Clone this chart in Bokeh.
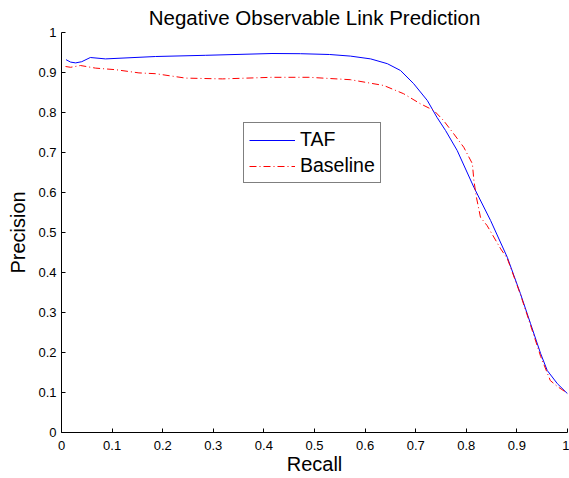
from bokeh.plotting import figure
from bokeh.models import FixedTicker, Legend, LegendItem
from bokeh.embed import file_html
from bokeh.resources import INLINE

title_text = "Negative Observable Link Prediction"
x_label = "Recall"
y_label = "Precision"

ticks = [0, 0.1, 0.2, 0.3, 0.4, 0.5, 0.6, 0.7, 0.8, 0.9, 1]
tick_labels = ["0", "0.1", "0.2", "0.3", "0.4", "0.5", "0.6", "0.7", "0.8", "0.9", "1"]

taf_recall = [0.009, 0.018, 0.028, 0.04, 0.057, 0.087, 0.186, 0.285, 0.416, 0.472,
              0.53, 0.571, 0.611, 0.644, 0.67, 0.696, 0.723, 0.742, 0.759, 0.782,
              0.815, 0.848, 0.881, 0.907, 0.927, 0.947, 0.96, 0.98, 1.0]
taf_precision = [0.932, 0.926, 0.924, 0.927, 0.9375, 0.934, 0.94, 0.943, 0.9475, 0.947,
                 0.945, 0.941, 0.934, 0.922, 0.905, 0.872, 0.83, 0.788, 0.755, 0.705,
                 0.613, 0.53, 0.438, 0.347, 0.272, 0.197, 0.155, 0.122, 0.097]

base_recall = [0.008, 0.018, 0.0375, 0.067, 0.107, 0.153, 0.186, 0.245, 0.318, 0.416,
               0.489, 0.571, 0.637, 0.676, 0.709, 0.736, 0.755, 0.775, 0.795, 0.812,
               0.815, 0.82, 0.828, 0.841, 0.868, 0.881, 0.907, 0.927, 0.947, 0.966,
               0.98, 1.0]
base_precision = [0.915, 0.913, 0.9175, 0.911, 0.907, 0.899, 0.897, 0.886, 0.884, 0.888,
                  0.888, 0.882, 0.8675, 0.847, 0.822, 0.805, 0.78, 0.747, 0.713, 0.672,
                  0.63, 0.588, 0.538, 0.5175, 0.459, 0.435, 0.345, 0.268, 0.19, 0.13,
                  0.115, 0.098]

FONT = "Liberation Sans"

p = figure(width=569, height=478, x_range=(0, 1), y_range=(0, 1),
           output_backend="svg", toolbar_location=None,
           title=title_text, min_border_left=61, min_border_right=2,
           min_border_top=32, min_border_bottom=46)
p.title.align = "center"
p.title.vertical_align = "top"
p.title.text_font = FONT
p.title.text_font_size = "20.5px"
p.title.text_font_style = "normal"
p.title.text_color = "black"
p.title.standoff = 4
p.outline_line_color = None
p.xgrid.visible = False
p.ygrid.visible = False
p.background_fill_color = "white"
p.border_fill_color = "white"

overrides = {t: l for t, l in zip(ticks, tick_labels)}
for ax in (p.xaxis[0], p.yaxis[0]):
    ax.ticker = FixedTicker(ticks=ticks)
    ax.major_label_overrides = overrides
    ax.minor_tick_line_color = None
    ax.major_tick_in = 4
    ax.major_tick_out = 0
    ax.axis_line_color = "black"
    ax.major_tick_line_color = "black"
    ax.major_label_text_font = FONT
    ax.major_label_text_font_size = "13px"
    ax.major_label_text_color = "black"
    ax.axis_label_text_font = FONT
    ax.axis_label_text_font_size = "20px"
    ax.axis_label_text_font_style = "normal"
    ax.axis_label_text_color = "black"
p.xaxis[0].axis_label = x_label
p.yaxis[0].axis_label = y_label
p.xaxis[0].major_label_standoff = 8
p.xaxis[0].axis_label_standoff = 0
p.yaxis[0].major_label_standoff = 5
p.yaxis[0].axis_label_standoff = 6

r1 = p.line(taf_recall, taf_precision, line_color="#0000ff", line_width=1)
r2 = p.line(base_recall, base_precision, line_color="#ff0000", line_width=1,
            line_dash="7 3 1 3")

legend = Legend(items=[LegendItem(label="TAF", renderers=[r1]),
                       LegendItem(label="Baseline", renderers=[r2])],
                location=(182, 249))
legend.label_text_font = FONT
legend.label_text_font_size = "19.5px"
legend.label_text_color = "black"
legend.glyph_width = 46
legend.glyph_height = 20
legend.label_height = 20
legend.label_standoff = 5
legend.spacing = 3
legend.padding = 5
legend.margin = 0
legend.border_line_color = "black"
legend.border_line_width = 1
legend.background_fill_alpha = 1
p.add_layout(legend, "center")

open("out.html", "w").write(file_html(p, INLINE))
